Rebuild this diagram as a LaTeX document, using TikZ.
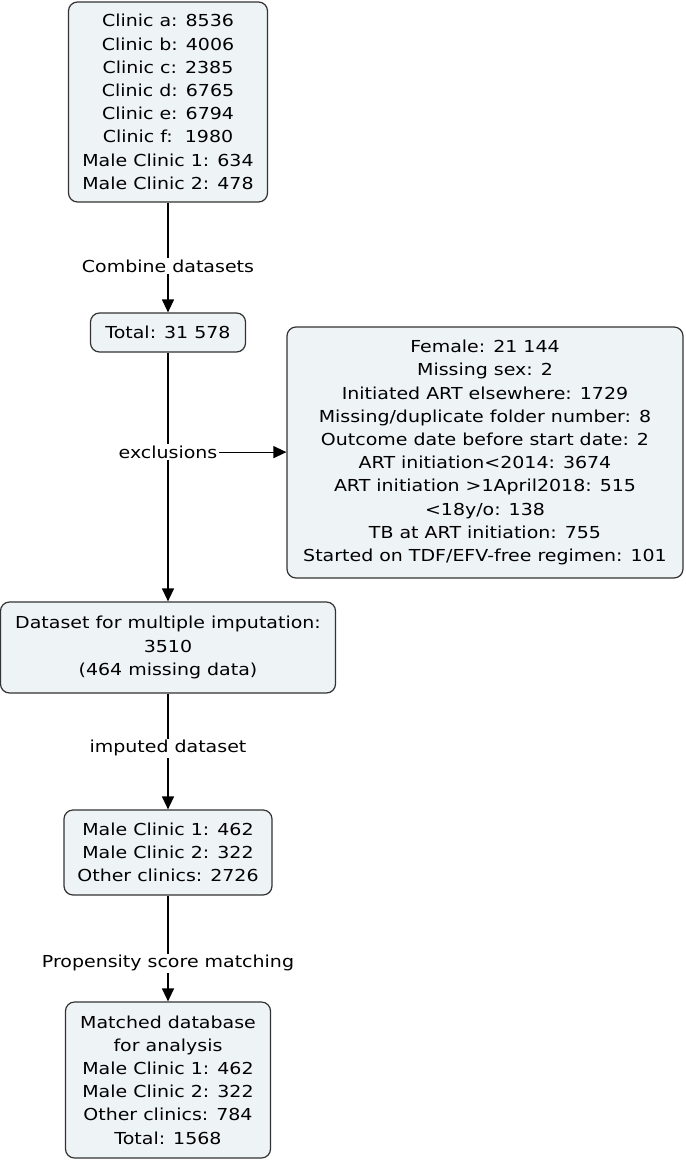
\documentclass[tikz,border=0pt]{standalone}
\usepackage{fontspec}
\setmainfont[FakeStretch=1.15]{DejaVu Sans}
\usepackage{xcolor}
\usetikzlibrary{arrows.meta}
\definecolor{c1}{HTML}{EEF3F5}
\definecolor{c2}{HTML}{333333}

\begin{document}
\begin{tikzpicture}[x=1pt, y=-1pt,
    flowbox/.style={draw=c2, fill=c1, line width=1.2pt, rounded corners=9pt,
        align=center, inner sep=2pt, font=\fontsize{16.5}{23.2}\selectfont},
    flowlabel/.style={fill=white, inner sep=1.5pt, font=\fontsize{16.5}{23.2}\selectfont},
    flowarrow/.style={line width=1.2pt, -{Triangle[length=13pt, width=12pt]}}]
    \useasboundingbox (0,0) rectangle (685,1161);
    \node[flowbox, minimum width=199pt, minimum height=200pt] (clinics) at (168,102)
        {Clinic a: 8536\\Clinic b: 4006\\Clinic c: 2385\\Clinic d: 6765\\Clinic e: 6794\\Clinic f:\ \ 1980\\Male Clinic 1: 634\\Male Clinic 2: 478};
    \node[flowbox, minimum width=155pt, minimum height=39pt] (total) at (168,332.5) {Total: 31 578};
    \node[flowbox, minimum width=396pt, minimum height=251pt] (excl) at (485,452.5)
        {Female: 21 144\\Missing sex: 2\\Initiated ART elsewhere: 1729\\Missing/duplicate folder number: 8\\Outcome date before start date: 2\\ART initiation<2014: 3674\\ART initiation >1April2018: 515\\<18y/o: 138\\TB at ART initiation: 755\\Started on TDF/EFV-free regimen: 101};
    \node[flowbox, minimum width=335pt, minimum height=91pt] (imput) at (168,647.5)
        {Dataset for multiple imputation:\\3510\\(464 missing data)};
    \node[flowbox, minimum width=208pt, minimum height=85pt] (male) at (168,852.5)
        {Male Clinic 1: 462\\Male Clinic 2: 322\\Other clinics: 2726};
    \node[flowbox, minimum width=205pt, minimum height=156pt] (matched) at (168,1080)
        {Matched database\\for analysis\\Male Clinic 1: 462\\Male Clinic 2: 322\\Other clinics: 784\\Total: 1568};
    % connectors
    \draw[flowarrow] (clinics) -- node[flowlabel, pos=0.58] {Combine datasets} (total);
    \draw[flowarrow] (total) -- node[flowlabel, pos=0.4] (exlabel) {exclusions} (imput);
    \draw[flowarrow] (exlabel.east) -- (exlabel.east -| excl.west);
    \draw[flowarrow] (imput) -- node[flowlabel, pos=0.47] {imputed dataset} (male);
    \draw[flowarrow] (male) -- node[flowlabel, pos=0.64] {Propensity score matching} (matched);
\end{tikzpicture}
\end{document}
